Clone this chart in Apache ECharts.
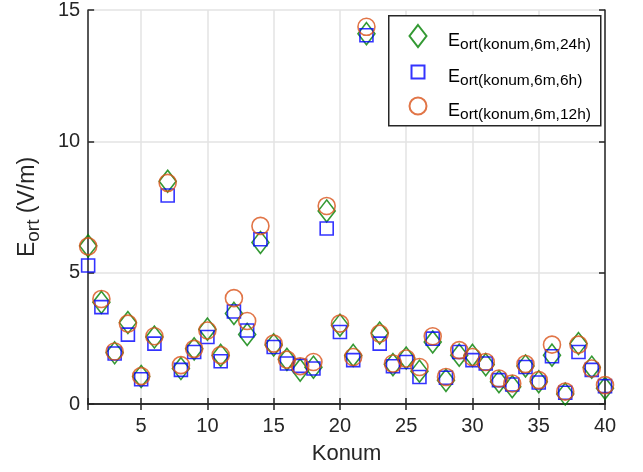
<!DOCTYPE html>
<html><head><meta charset="utf-8">
<script src="https://cdn.jsdelivr.net/npm/echarts@6/dist/echarts.min.js"></script>
<style>html,body{margin:0;padding:0;background:#fff}#c{width:643px;height:472px}</style>
</head><body><div id="c"></div>
<script>
// ---- data ----
const konum = [1,2,3,4,5,6,7,8,9,10,11,12,13,14,15,16,17,18,19,20,21,22,23,24,25,26,27,28,29,30,31,32,33,34,35,36,37,38,39,40];
const e24 = [6.02,3.87,1.95,3.10,1.05,2.55,8.48,1.35,2.10,2.85,1.85,3.45,2.65,6.15,2.25,1.70,1.29,1.40,7.35,3.00,1.85,14.10,2.70,1.50,1.75,1.25,2.36,0.90,1.86,1.85,1.50,0.85,0.66,1.45,0.85,1.86,0.38,2.30,1.40,0.60];
const e6  = [5.27,3.69,1.92,2.64,0.94,2.30,7.94,1.30,1.98,2.55,1.63,3.52,2.80,6.27,2.17,1.54,1.45,1.35,6.68,2.74,1.67,14.04,2.30,1.44,1.60,1.03,2.49,1.00,1.98,1.67,1.54,0.91,0.74,1.41,0.82,1.82,0.43,1.98,1.30,0.68];
const e12 = [6.00,4.00,2.00,3.06,1.06,2.58,8.42,1.48,2.10,2.80,1.86,4.03,3.16,6.78,2.30,1.69,1.44,1.60,7.54,3.06,1.79,14.36,2.68,1.54,1.73,1.41,2.58,1.03,2.05,1.79,1.60,0.97,0.78,1.52,0.91,2.26,0.47,2.26,1.35,0.72];
const seriesNames = ['Eort(konum,6m,24h)','Eort(konum,6m,6h)','Eort(konum,6m,12h)'];
const xTicks = [5,10,15,20,25,30,35,40];
const yTicks = [0,5,10,15];
const xTitle = 'Konum';
const yTitleMain = 'E', yTitleSub = 'ort', yTitleUnit = ' (V/m)';

// ---- styling ----
const FF = "'Liberation Sans', Arial, sans-serif";
const AX = '#262626';
const C_GREEN = '#008000', C_BLUE = '#0000ff', C_ORANGE = '#D95319';

function pts(vals){ return konum.map((k,i)=>[k, vals[i]]); }

const axisCommon = {
  axisLine:{show:true, lineStyle:{color:AX, width:1.5}},
  axisTick:{show:true, inside:true, length:6, lineStyle:{color:AX, width:1.5}},
};

function legendCfg(idx, icon, w, h, cx, cy, padLeft){
  return {
    data:[{name:seriesNames[idx], icon:icon}],
    left: cx - w/2, top: cy - 16, padding:0,
    itemWidth:w, itemHeight:h, itemGap:0, selectedMode:false, z:10,
    formatter: n => '{e|' + n.charAt(0) + '}{s|' + n.slice(1) + '}',
    textStyle:{ rich:{
      e:{fontFamily:FF, fontSize:18, color:'#000', lineHeight:12, padding:[12,0,2,padLeft]},
      s:{fontFamily:FF, fontSize:15.5, color:'#000', lineHeight:8, padding:[18,0,0,0]}
    }}
  };
}

const chart = echarts.init(document.getElementById('c'), null, {renderer:'canvas'});
chart.setOption({
  backgroundColor:'#fff',
  animation:false,
  grid:{left:85, right:38, top:8, bottom:68, containLabel:false},
  xAxis:[
    Object.assign({
      type:'value', min:konum[0], max:konum[konum.length-1], splitNumber:8,
      name:xTitle, nameLocation:'middle', nameGap:39,
      nameTextStyle:{fontFamily:FF, fontSize:22, color:AX},
      axisLabel:{fontFamily:FF, fontSize:20, color:AX, margin:12,
        formatter: v => xTicks.indexOf(v) >= 0 ? String(v) : ''},
      splitLine:{show:true, lineStyle:{color:'#e3e3e3', width:1.5}},
    }, axisCommon),
    Object.assign({
      type:'value', position:'top', min:konum[0], max:konum[konum.length-1], splitNumber:8,
      axisLabel:{show:false}, splitLine:{show:false}
    }, axisCommon)
  ],
  yAxis:[
    Object.assign({
      type:'value', min:yTicks[0], max:yTicks[yTicks.length-1], interval:yTicks[1]-yTicks[0],
      name:'{e|' + yTitleMain + '}{s|' + yTitleSub + '}{u|' + yTitleUnit + '}',
      nameLocation:'middle', nameGap:49,
      nameTextStyle:{ rich:{
        e:{fontFamily:FF, fontSize:23, color:AX, lineHeight:22, padding:[4,0,4,0]},
        s:{fontFamily:FF, fontSize:19, color:AX, lineHeight:10, padding:[16,0,4,0]},
        u:{fontFamily:FF, fontSize:23, color:AX, lineHeight:22, padding:[4,0,4,0]}
      }},
      axisLabel:{fontFamily:FF, fontSize:20, color:AX, margin:8},
      splitLine:{show:true, lineStyle:{color:'#e3e3e3', width:1.5}},
    }, axisCommon),
    Object.assign({
      type:'value', position:'right', min:yTicks[0], max:yTicks[yTicks.length-1], interval:yTicks[1]-yTicks[0],
      axisLabel:{show:false}, splitLine:{show:false}
    }, axisCommon)
  ],
  legend:[
    legendCfg(0, 'diamond', 17, 22, 417, 35, 16.5),
    legendCfg(1, 'rect', 13, 13, 417, 71, 18.5),
    legendCfg(2, 'circle', 17, 17, 417, 105, 16.5)
  ],
  graphic:[{
    type:'rect', left:388, top:15, z:5,
    shape:{width:212, height:110},
    style:{fill:'#fff', stroke:AX, lineWidth:1.5}
  }],
  series:[
    {name:seriesNames[0], type:'scatter', data:pts(e24), symbol:'diamond', symbolSize:[17,22],
     itemStyle:{color:'rgba(0,0,0,0)', borderColor:C_GREEN, borderWidth:1.6}, z:2},
    {name:seriesNames[1], type:'scatter', data:pts(e6), symbol:'rect', symbolSize:13,
     itemStyle:{color:'rgba(0,0,0,0)', borderColor:C_BLUE, borderWidth:1.6}, z:3},
    {name:seriesNames[2], type:'scatter', data:pts(e12), symbol:'circle', symbolSize:17,
     itemStyle:{color:'rgba(0,0,0,0)', borderColor:C_ORANGE, borderWidth:1.6}, z:4}
  ]
});
</script></body></html>
